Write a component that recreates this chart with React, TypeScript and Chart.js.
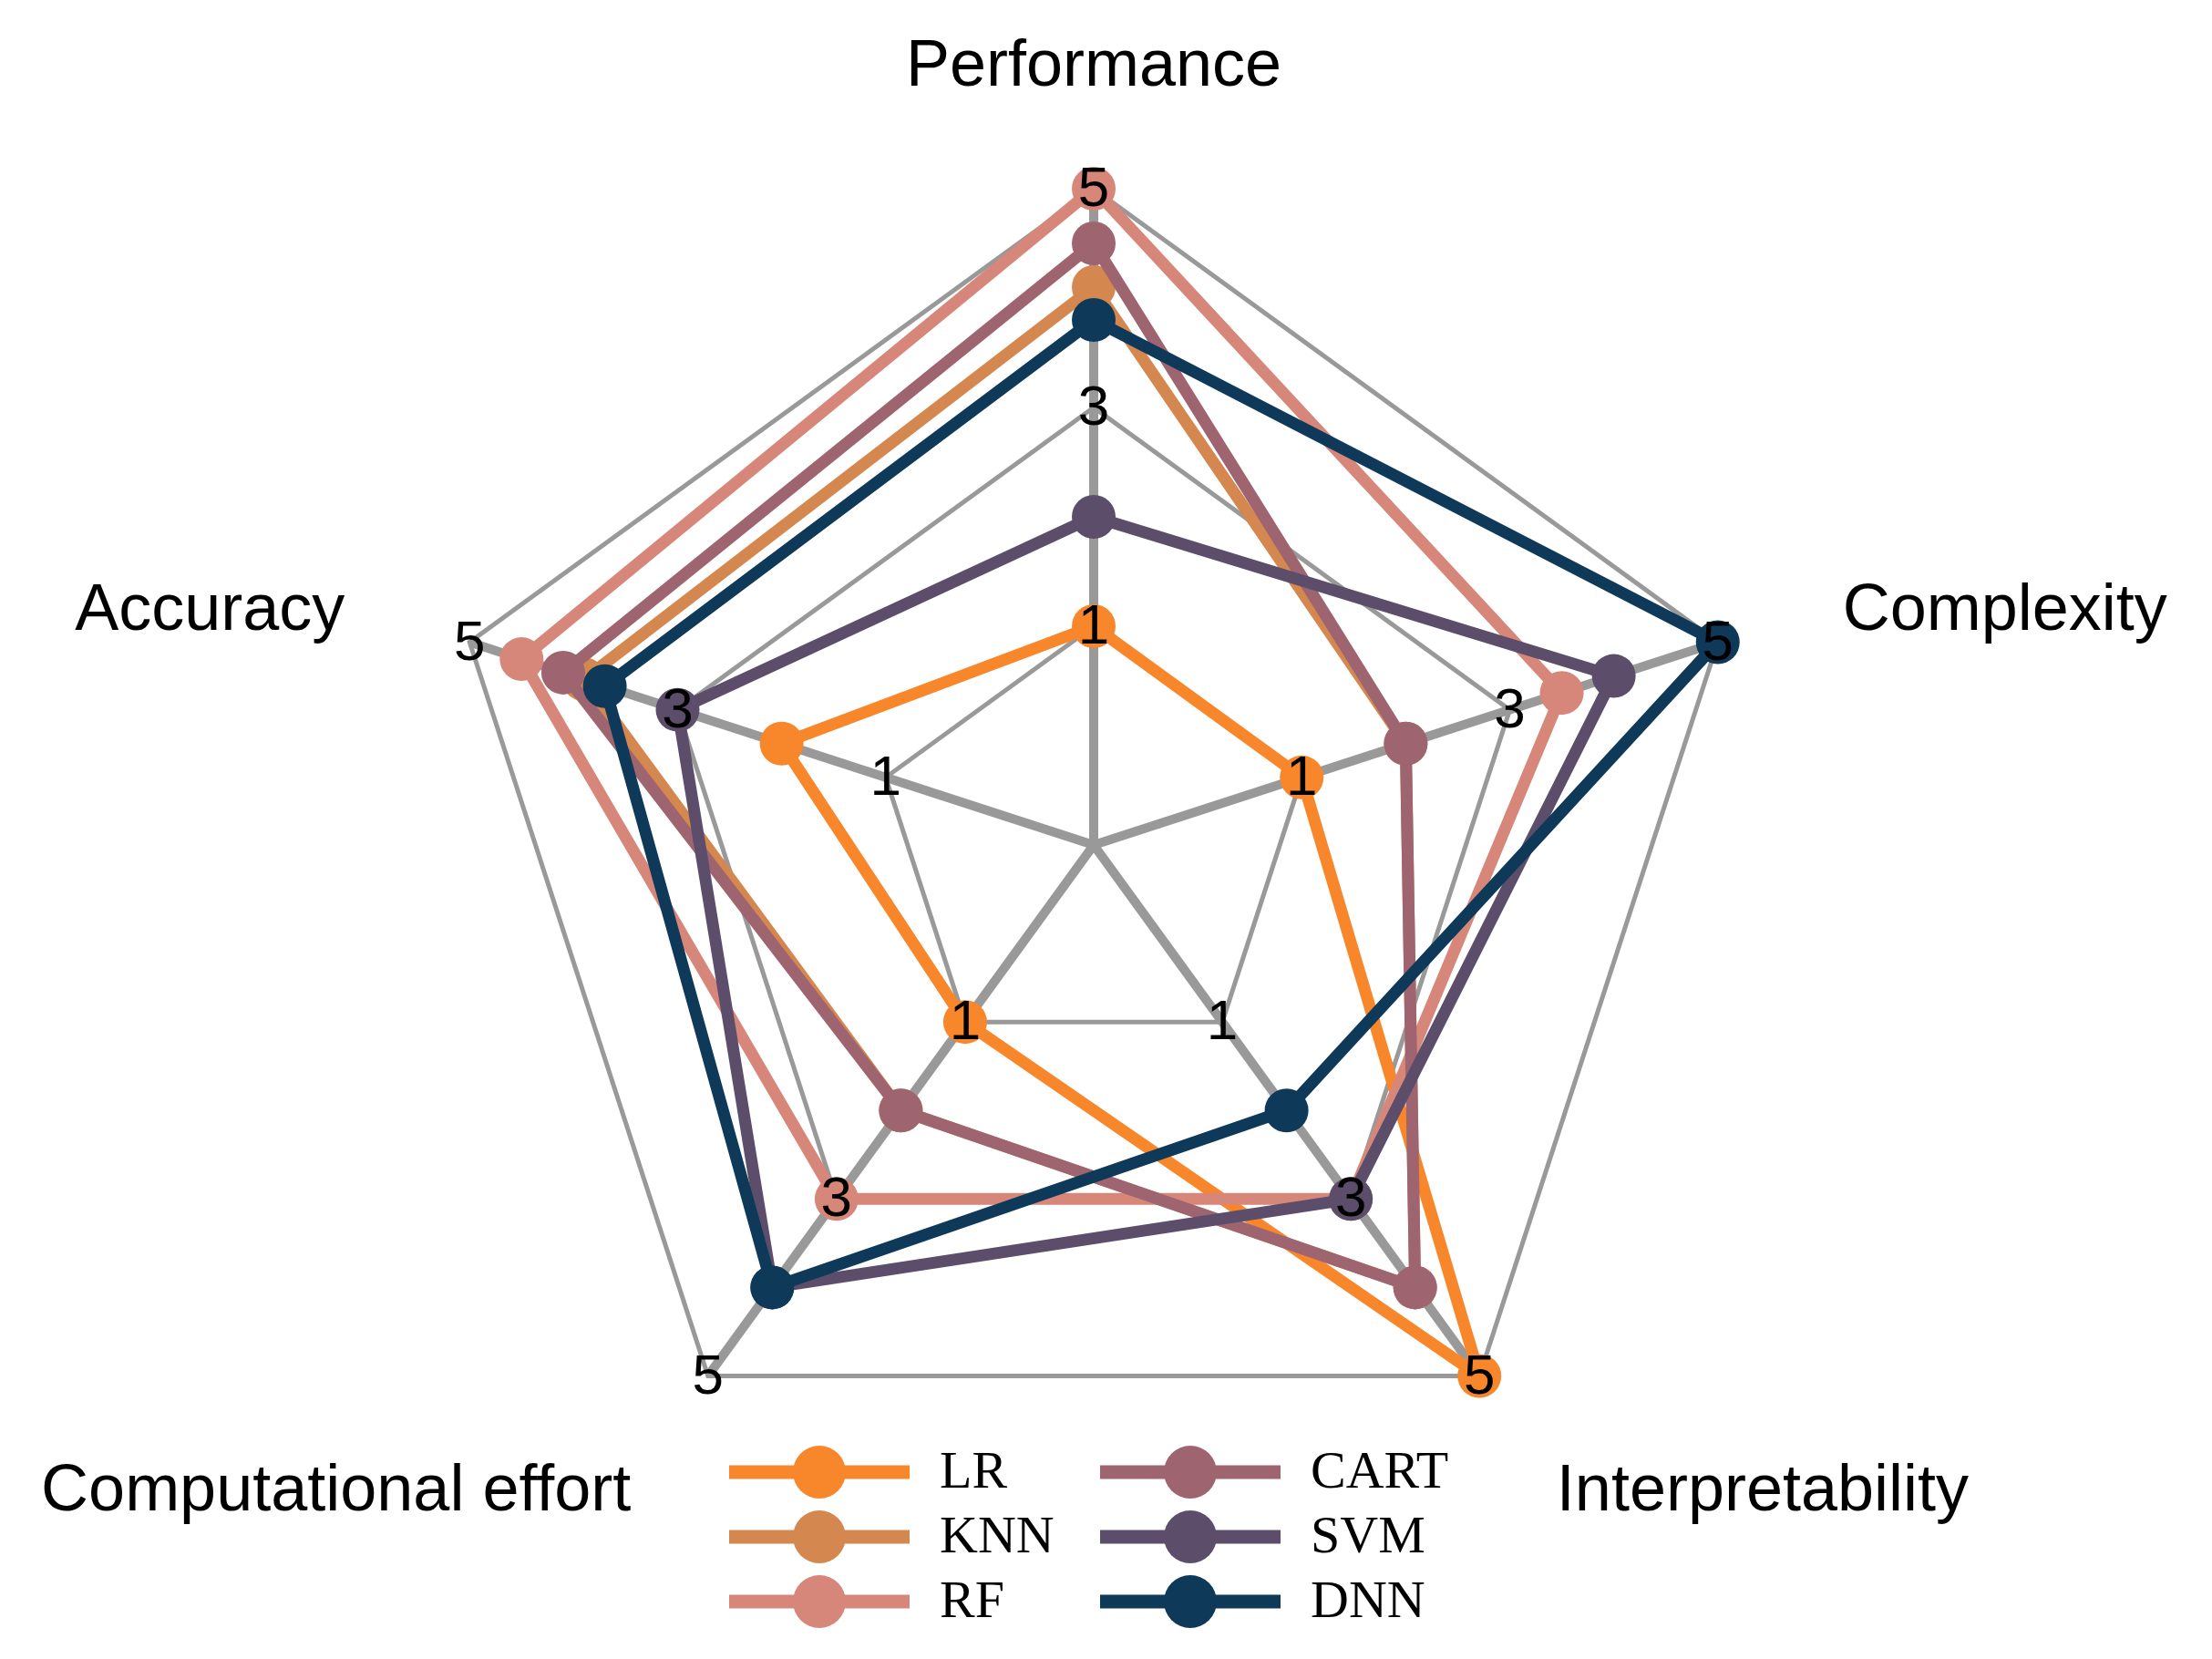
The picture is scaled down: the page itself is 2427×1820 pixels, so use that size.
import React, { useEffect, useRef } from 'react';
import { Chart, registerables } from 'chart.js';

Chart.register(...registerables);

// ---- data ----
const categories = ['Performance', 'Complexity', 'Interpretability', 'Computational effort', 'Accuracy'];
const tickValues = [1, 3, 5];
const tickLabels = ['1', '3', '5'];
const seriesNames = ['LR', 'KNN', 'RF', 'CART', 'SVM', 'DNN'];
const lrValues = [1, 1, 5, 1, 2];
const knnValues = [4.1, 2, 4, 2, 3.9];
const rfValues = [5, 3.5, 3, 3, 4.5];
const cartValues = [4.5, 2, 4, 2, 4.1];
const svmValues = [2, 4, 3, 4, 3];
const dnnValues = [3.8, 5, 2, 4, 3.7];
const seriesValues = [lrValues, knnValues, rfValues, cartValues, svmValues, dnnValues];
const seriesColors = ['#F8862B', '#D4874F', '#D6877A', '#9E6470', '#5C4D6B', '#0F3959'];

const SANS = '"Liberation Sans", Arial, sans-serif';
const SERIF = '"Liberation Serif", "Times New Roman", serif';

const overlayPlugin = {
  id: 'overlay',
  afterDatasetsDraw(chart: any) {
    const scale = chart.scales.r;
    const ctx = chart.ctx as CanvasRenderingContext2D;
    ctx.save();
    ctx.fillStyle = '#000000';
    // tick labels on every spoke
    ctx.font = `62px ${SANS}`;
    ctx.textAlign = 'center';
    ctx.textBaseline = 'middle';
    for (let i = 0; i < categories.length; i++) {
      tickValues.forEach((v, k) => {
        const p = scale.getPointPosition(i, scale.getDistanceFromCenterForValue(v));
        ctx.fillText(tickLabels[k], p.x, p.y + 2);
      });
    }
    // axis titles
    ctx.font = `72px ${SANS}`;
    for (let i = 0; i < categories.length; i++) {
      const p = scale.getPointPosition(i, scale.drawingArea * 1.2);
      const dx = p.x - scale.xCenter;
      ctx.textAlign = Math.abs(dx) < 2 ? 'center' : dx > 0 ? 'left' : 'right';
      ctx.fillText(categories[i], p.x, p.y + 11);
    }
    // legend
    const colX = [800, 1207];
    const rowY = [1615, 1686, 1757];
    ctx.font = `58px ${SERIF}`;
    ctx.textAlign = 'left';
    seriesNames.forEach((name, k) => {
      const x0 = colX[Math.floor(k / 3)];
      const y = rowY[k % 3];
      ctx.strokeStyle = seriesColors[k];
      ctx.lineWidth = 15;
      ctx.lineCap = 'butt';
      ctx.beginPath();
      ctx.moveTo(x0, y);
      ctx.lineTo(x0 + 198, y);
      ctx.stroke();
      ctx.fillStyle = seriesColors[k];
      ctx.beginPath();
      ctx.arc(x0 + 99, y, 29, 0, Math.PI * 2);
      ctx.fill();
      ctx.fillStyle = '#000000';
      ctx.fillText(name, x0 + 231, y + 2);
    });
    ctx.restore();
  },
};

export default function App() {
  const canvasRef = useRef<HTMLCanvasElement | null>(null);

  useEffect(() => {
    const canvas = canvasRef.current;
    if (!canvas) return;
    const n = seriesNames.length;
    const chart = new Chart(canvas, {
      type: 'radar',
      data: {
        labels: categories,
        datasets: seriesNames.map((name, k) => ({
          label: name,
          data: seriesValues[k],
          borderColor: seriesColors[k],
          backgroundColor: seriesColors[k],
          pointBackgroundColor: seriesColors[k],
          pointBorderColor: seriesColors[k],
          pointBorderWidth: 0,
          pointRadius: 24,
          borderWidth: 13,
          fill: false,
          order: n - k,
        })),
      },
      options: {
        responsive: false,
        devicePixelRatio: 1,
        animation: false,
        layout: { padding: { left: 480, right: 507, top: 207, bottom: 173 } },
        plugins: {
          legend: { display: false },
          tooltip: { enabled: false },
        },
        scales: {
          r: {
            min: -1,
            max: 5,
            beginAtZero: false,
            ticks: { display: false, stepSize: 2 },
            grid: { color: '#999999', lineWidth: 5 },
            angleLines: { color: '#999999', lineWidth: 10 },
            pointLabels: { display: false },
          },
        },
      },
      plugins: [overlayPlugin],
    });
    return () => chart.destroy();
  }, []);

  return (
    <div style={{ position: 'absolute', left: 0, top: 0, width: 2427, height: 1820, background: '#ffffff' }}>
      <canvas ref={canvasRef} width={2427} height={1820} style={{ width: 2427, height: 1820, display: 'block' }} />
    </div>
  );
}
